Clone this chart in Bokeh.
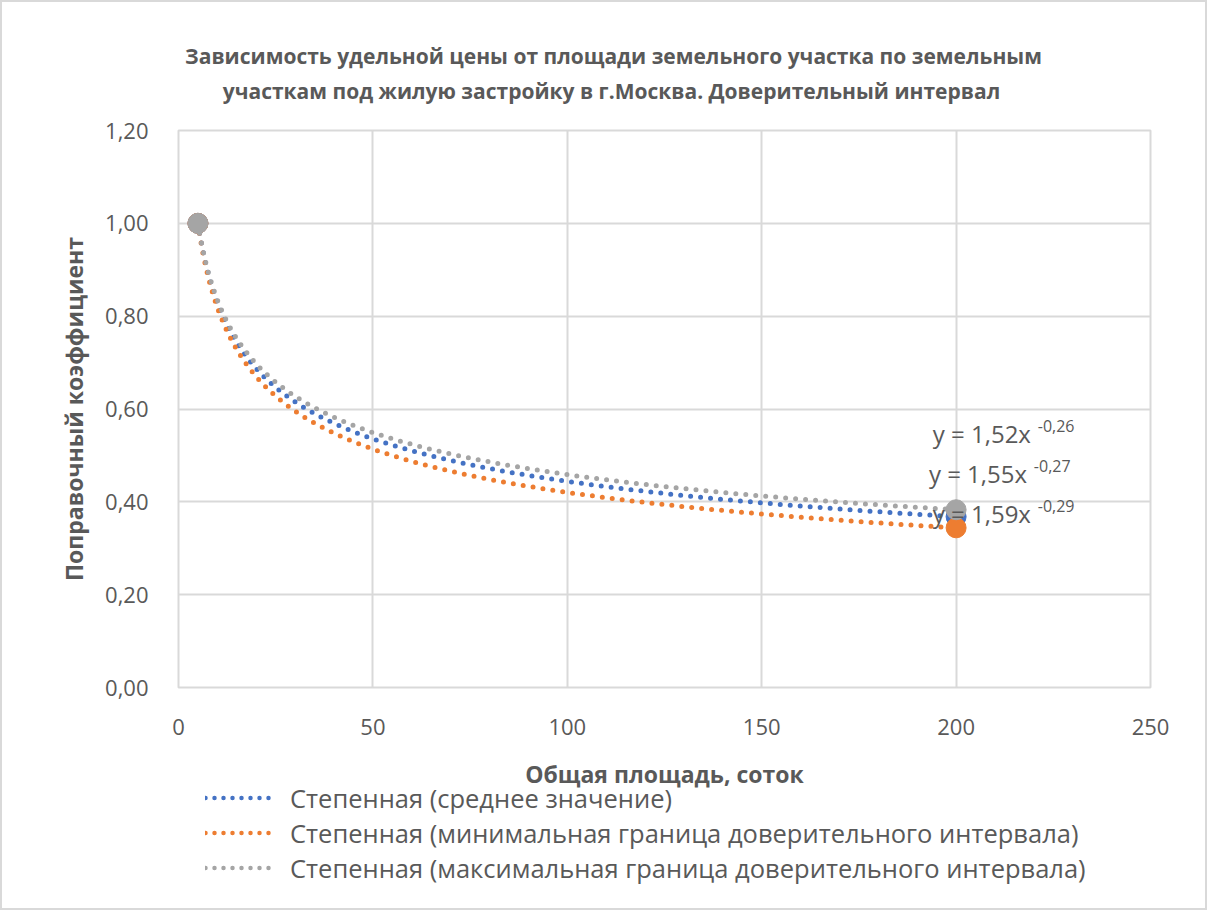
import numpy as np
from bokeh.plotting import figure
from bokeh.layouts import column
from bokeh.models import (Range1d, FixedTicker, CustomJSTickFormatter, Label,
                          Legend, LegendItem)
from bokeh.embed import file_html
from bokeh.resources import INLINE

# ---- data ----
title_lines = ["Зависимость удельной цены от площади земельного участка по земельным",
               "участкам под жилую застройку в г.Москва. Доверительный интервал"]
x_label = "Общая площадь, соток"
y_label = "Поправочный коэффициент"

area = [5, 200]
mean_vals = [1.00, 0.368]
min_vals = [1.00, 0.344]
max_vals = [1.00, 0.383]

series_names = ["Степенная (среднее значение)",
                "Степенная (минимальная граница доверительного интервала)",
                "Степенная (максимальная граница доверительного интервала)"]
series_vals = [mean_vals, min_vals, max_vals]
series_colors = ["#4472C4", "#ED7D31", "#A5A5A5"]
eq_main = ["y = 1,55x", "y = 1,59x", "y = 1,52x"]
eq_sup = ["-0,27", "-0,29", "-0,26"]

x_ticks = [0, 50, 100, 150, 200, 250]
y_ticks = [0, 0.2, 0.4, 0.6, 0.8, 1.0, 1.2]

TXT = "#595959"
FONT = "Open Sans"
W = 1203
FL, FR = 178, 1150          # frame left / right on the page

# ---- title strip ----
t = figure(width=W, height=108, output_backend="svg", toolbar_location=None,
           x_range=Range1d(FL, FR), y_range=Range1d(110, 2),
           x_axis_type=None, y_axis_type=None, min_border=0)
t.outline_line_color = None
t.grid.visible = False
for txt, xx, yy in zip(title_lines, [613, 611], [55, 90]):
    t.add_layout(Label(x=xx, y=yy, text=txt, text_align="center",
                       text_baseline="middle", text_font=FONT,
                       text_font_style="bold", text_font_size="21px",
                       text_color=TXT))

# ---- main plot ----
p = figure(width=W, height=645, output_backend="svg", toolbar_location=None,
           x_range=Range1d(0, 250), y_range=Range1d(0, 1.2),
           min_border_left=FL - 2, min_border_right=W + 2 - FR, min_border_top=20,
           min_border_bottom=68)
p.outline_line_color = "#d9d9d9"
p.outline_line_width = 2

for ax in (p.xaxis[0], p.yaxis[0]):
    ax.axis_line_color = None
    ax.major_tick_line_color = None
    ax.minor_tick_line_color = None
    ax.major_tick_out = 0
    ax.major_label_text_color = TXT
    ax.major_label_text_font = FONT
    ax.major_label_text_font_size = "22px"
    ax.axis_label_text_color = TXT
    ax.axis_label_text_font = FONT
    ax.axis_label_text_font_style = "bold"
    ax.axis_label_text_font_size = "23px"

p.xaxis.ticker = FixedTicker(ticks=x_ticks)
p.yaxis.ticker = FixedTicker(ticks=y_ticks)
p.yaxis.formatter = CustomJSTickFormatter(code="return tick.toFixed(2).replace('.', ',');")
p.xaxis.major_label_standoff = 31
p.yaxis.major_label_standoff = 30
p.yaxis.axis_label = y_label
p.yaxis.axis_label_standoff = 12

p.xgrid.ticker = FixedTicker(ticks=x_ticks)
p.ygrid.ticker = FixedTicker(ticks=y_ticks)
p.grid.grid_line_color = "#d9d9d9"
p.grid.grid_line_width = 2

# ---- legend strip (x-axis title + legend) ----
q = figure(width=W, height=153, output_backend="svg", toolbar_location=None,
           x_range=Range1d(FL, FR), y_range=Range1d(908, 755),
           x_axis_type=None, y_axis_type=None, min_border=0)
q.outline_line_color = None
q.grid.visible = False
q.add_layout(Label(x=(FL + FR) / 2, y=773, text=x_label, text_align="center",
                   text_baseline="middle", text_font=FONT, text_font_style="bold",
                   text_font_size="23px", text_color=TXT))

items = []
for name, vals, col in zip(series_names, series_vals, series_colors):
    b, loga = np.polyfit(np.log(area), np.log(vals), 1)
    xs = np.linspace(area[0], area[1], 300)
    ys = np.exp(loga) * xs ** b
    p.line(xs, ys, line_color=col, line_width=5, line_dash="0 10", line_cap="round")
    p.scatter(area, vals, size=20, fill_color=col, line_color=col)
    # legend proxy, its data lies outside the strip's visible range
    r = q.line(x=[0, 1], y=[0, 1], line_color=col, line_width=4.5,
               line_dash="0 9", line_cap="round")
    items.append(LegendItem(label=name, renderers=[r]))

legend = Legend(items=items, location=(27, 23), orientation="vertical",
                glyph_width=72, glyph_height=35, label_height=35, spacing=0,
                label_standoff=13, padding=0, margin=0,
                label_text_font=FONT, label_text_font_size="25.5px",
                label_text_color=TXT, border_line_color=None,
                background_fill_alpha=0)
q.add_layout(legend, "center")

# equations
eq_pos = [(193.0, 0.461, 220.0, 0.478), (194.0, 0.374, 221.0, 0.391),
          (194.0, 0.547, 221.0, 0.564)]
for m, s, (xm, ym, xs_, ys_) in zip(eq_main, eq_sup, eq_pos):
    p.add_layout(Label(x=xm, y=ym, text=m, text_align="left", text_baseline="middle",
                       text_font=FONT, text_font_size="24px", text_color=TXT))
    p.add_layout(Label(x=xs_, y=ys_, text=s, text_align="left", text_baseline="middle",
                       text_font=FONT, text_font_size="16px", text_color=TXT))

layout = column(t, p, q, spacing=0, styles={"border": "2px solid #d9d9d9"})
open("out.html", "w").write(file_html(layout, INLINE))
